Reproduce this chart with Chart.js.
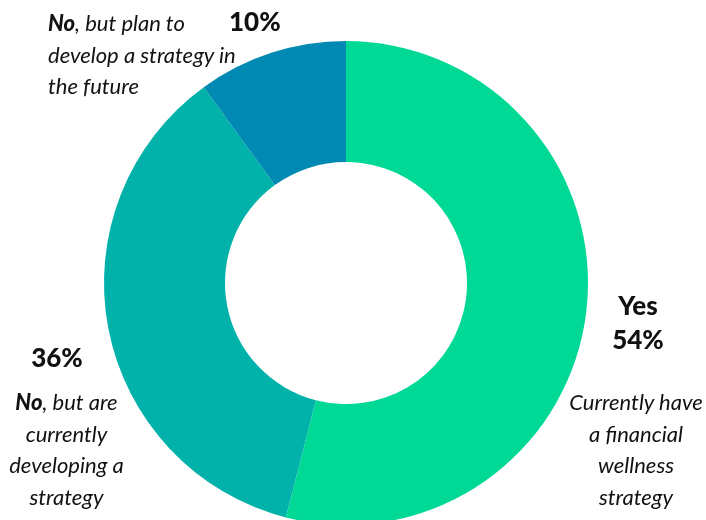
<!DOCTYPE html>
<html>
<head>
<meta charset="utf-8">
<script src="https://cdn.jsdelivr.net/npm/chart.js@4/dist/chart.umd.min.js"></script>
<style>
  html, body { margin:0; padding:0; width:706px; height:520px; overflow:hidden; background:#fff; }
  #wrap { position:absolute; left:0; top:0; width:706px; height:540px; }
  .lbl { position:absolute; font-family:Lato, "Open Sans", sans-serif; color:#111; white-space:nowrap; font-synthesis: weight style; }
  .it { font-style:italic; font-size:22px; line-height:31.5px; }
  .bd { font-weight:900; font-size:26px; line-height:34px; }
  .c { text-align:center; }
</style>
</head>
<body>
<div id="wrap"><canvas id="c" width="706" height="540"></canvas></div>

<div class="lbl it" style="left:48px; top:7px;"><b style="font-weight:900">No</b>, but plan to<br>develop a strategy in<br>the future</div>
<div class="lbl bd" style="left:229px; top:4px;">10%</div>

<div class="lbl bd c" style="left:7px; width:100px; top:340px;">36%</div>
<div class="lbl it c" style="left:3px; width:127px; top:386px;"><b style="font-weight:900">No</b>, but are<br>currently<br>developing a<br>strategy</div>

<div class="lbl bd c" style="left:588px; width:100px; top:288px;">Yes<br>54%</div>
<div class="lbl it c" style="left:565px; width:142px; top:386px;">Currently have<br>a financial<br>wellness<br>strategy</div>

<script>
const categories = ["Yes", "No, but are currently developing a strategy", "No, but plan to develop a strategy in the future"];
const shares = [54, 36, 10];
const sliceColors = ["#00D896", "#00B2A9", "#0089B2"];

new Chart(document.getElementById('c'), {
  type: 'doughnut',
  data: {
    labels: categories,
    datasets: [{
      data: shares,
      backgroundColor: sliceColors,
      borderWidth: 0,
      hoverOffset: 0
    }]
  },
  options: {
    responsive: false,
    animation: false,
    cutout: '50%',
    layout: { padding: { left: 104, right: 118, top: 41, bottom: 15 } },
    plugins: { legend: { display: false }, tooltip: { enabled: false } }
  }
});
</script>
</body>
</html>
